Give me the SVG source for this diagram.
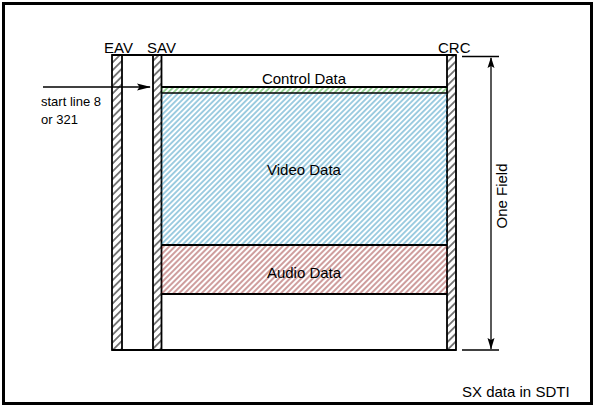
<svg xmlns="http://www.w3.org/2000/svg" width="597" height="409" viewBox="0 0 597 409">
<style>
  text { font-family: "Liberation Sans", Arial, sans-serif; fill: #000; }
  .lbl { font-size: 15px; }
  .mid { text-anchor: middle; }
  .small { font-size: 13px; }
  .ln { stroke: #000; stroke-width: 1.8; }
  .thin { stroke: #000; stroke-width: 1.3; fill: none; }
</style>
<defs>
  <pattern id="hBlack" patternUnits="userSpaceOnUse" width="5.5" height="5.5" patternTransform="rotate(45)">
    <line x1="2.75" y1="0" x2="2.75" y2="5.5" stroke="#000" stroke-width="1"/>
  </pattern>
  <pattern id="hBlue" patternUnits="userSpaceOnUse" width="3.8" height="3.8" patternTransform="rotate(45)">
    <line x1="1.9" y1="0" x2="1.9" y2="3.8" stroke="#1f8ab8" stroke-width="0.85"/>
  </pattern>
  <pattern id="hRed" patternUnits="userSpaceOnUse" width="4" height="4" patternTransform="rotate(45)">
    <line x1="2" y1="0" x2="2" y2="4" stroke="#8e1a1a" stroke-width="0.85"/>
  </pattern>
  <pattern id="hGreen" patternUnits="userSpaceOnUse" width="3.8" height="3.8" patternTransform="rotate(45)">
    <line x1="1.9" y1="0" x2="1.9" y2="3.8" stroke="#22a022" stroke-width="0.9"/>
  </pattern>
</defs>
<rect x="0" y="0" width="597" height="409" fill="#fff"/>
<rect x="3.5" y="3.5" width="588" height="400" fill="none" stroke="#000" stroke-width="3"/>

<g id="eav">
  <rect x="112" y="55" width="10" height="295" fill="url(#hBlack)" class="ln"/>
  <text class="lbl" x="104" y="53">EAV</text>
</g>
<g id="sav">
  <rect x="153" y="55" width="8.5" height="295" fill="url(#hBlack)" class="ln"/>
  <text class="lbl" x="147" y="53">SAV</text>
</g>
<g id="crc">
  <rect x="447" y="55" width="9" height="295" fill="url(#hBlack)" class="ln"/>
  <text class="lbl" x="438" y="53">CRC</text>
</g>
<g id="frame">
  <line x1="112" y1="55" x2="456" y2="55" class="ln"/>
  <line x1="112" y1="350" x2="456" y2="350" class="ln"/>
</g>
<g id="control-data">
  <text class="lbl mid" x="304" y="84">Control Data</text>
</g>
<g id="control-strip">
  <rect x="161.5" y="87" width="285.5" height="6" fill="url(#hGreen)"/>
  <line x1="161.5" y1="87" x2="447" y2="87" class="ln"/>
</g>
<g id="video-data">
  <rect x="161.5" y="93" width="285.5" height="152" fill="url(#hBlue)"/>
  <line x1="161.5" y1="93" x2="447" y2="93" class="thin"/>
  <text class="lbl mid" x="304" y="175">Video Data</text>
</g>
<g id="audio-data">
  <rect x="161.5" y="245" width="285.5" height="49" fill="url(#hRed)"/>
  <line x1="161.5" y1="245" x2="447" y2="245" class="ln"/>
  <line x1="161.5" y1="294" x2="447" y2="294" class="ln"/>
  <text class="lbl mid" x="304" y="278">Audio Data</text>
</g>
<g id="start-label">
  <text class="small" x="41" y="106">start line 8</text>
  <text class="small" x="41" y="124">or 321</text>
</g>
<g id="one-field">
  <line x1="462" y1="56.5" x2="499" y2="56.5" class="thin"/>
  <line x1="462" y1="350" x2="499" y2="350" class="thin"/>
  <text class="lbl mid" transform="translate(507,196) rotate(-90)">One Field</text>
</g>
<g id="sx-label">
  <text class="lbl" x="462" y="397">SX data in SDTI</text>
</g>
<g id="connectors">
  <line x1="43" y1="87" x2="150" y2="87" class="thin"/>
  <path d="M151,87 L137,83.5 L139.5,87 L137,90.5 Z" fill="#000"/>
  <line x1="491" y1="58" x2="491" y2="349" class="thin"/>
  <path d="M491,57 L487.5,68 L491,66 L494.5,68 Z" fill="#000"/>
  <path d="M491,349.5 L487.5,338 L491,340 L494.5,338 Z" fill="#000"/>
</g>
</svg>
